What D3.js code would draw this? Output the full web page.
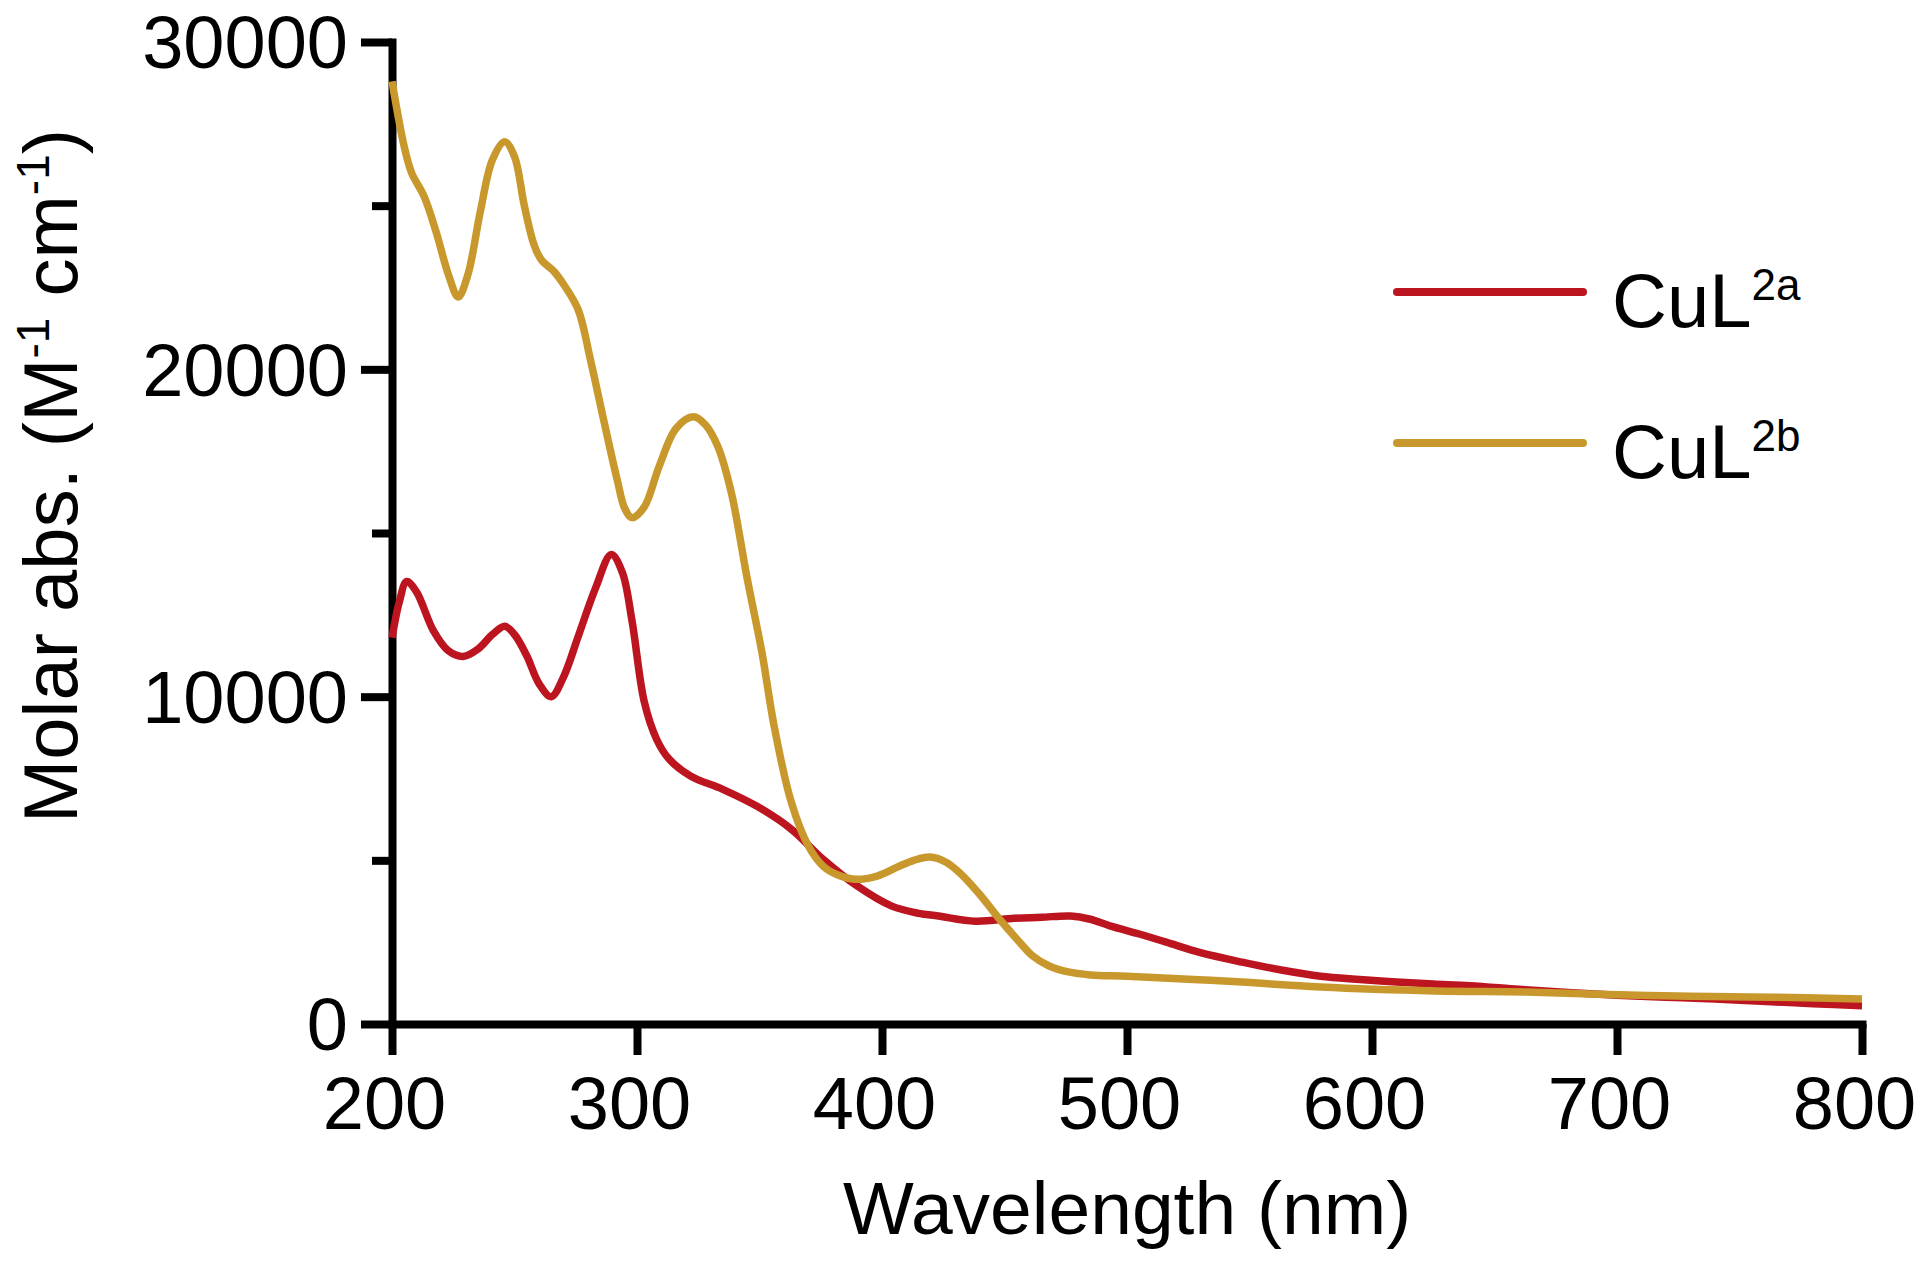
<!DOCTYPE html>
<html>
<head>
<meta charset="utf-8">
<script src="https://cdn.jsdelivr.net/npm/d3@7"></script>
<style>
  body { margin: 0; background: #fff; }
  svg { display: block; font-family: "Liberation Sans", Arial, sans-serif; }
</style>
</head>
<body>
<div id="chart"></div>
<script>
// CuL2a (red) – wavelength (nm) and molar absorptivity
const cul2aWavelength = [200, 203, 206, 210, 217, 223, 229, 235, 241, 246, 250, 255, 260, 265, 270, 276, 283, 289.5, 294, 298, 303, 308, 313, 322, 335, 349, 363, 376, 390, 404, 415, 423, 438, 454, 465, 477, 485, 493, 505, 516, 530, 547, 563, 579, 595, 610, 625, 640, 660, 680, 700, 720, 740, 763, 780, 800]
const cul2aAbs = [11800, 12900, 13520, 13200, 12000, 11400, 11230, 11450, 11900, 12150, 11900, 11250, 10400, 10000, 10600, 11840, 13300, 14340, 13800, 12300, 9830, 8700, 8100, 7570, 7170, 6650, 5950, 5030, 4210, 3600, 3380, 3300, 3140, 3230, 3260, 3300, 3200, 3000, 2750, 2500, 2180, 1890, 1650, 1460, 1360, 1280, 1220, 1170, 1060, 960, 880, 820, 760, 680, 620, 560]

// CuL2b (gold)
const cul2bWavelength = [200, 205, 208, 213, 218, 223, 227, 231, 236, 241, 246, 250, 254, 258, 261, 266, 270, 276, 281, 287, 292, 295, 298, 303, 309, 316, 323, 328, 333, 338.5, 345, 351, 356, 363, 370, 376, 382, 389, 398, 407, 413, 419.6, 426, 432, 440, 448, 455, 461.5, 468, 476, 485, 500, 525, 547, 579, 626, 663, 713, 763, 800]
const cul2bAbs = [28800, 26800, 26000, 25300, 24200, 22900, 22210, 22900, 24800, 26400, 26950, 26500, 25000, 23800, 23340, 23000, 22600, 21820, 20290, 18250, 16600, 15750, 15470, 15800, 17030, 18200, 18550, 18300, 17640, 16230, 13600, 11350, 9090, 6770, 5430, 4820, 4550, 4420, 4520, 4820, 5000, 5100, 4950, 4600, 3950, 3200, 2600, 2080, 1780, 1590, 1500, 1460, 1370, 1280, 1130, 1010, 975, 870, 820, 760]

const seriesNames = ["CuL", "CuL"]
const seriesSup = ["2a", "2b"]
const seriesColors = ["#bd1520", "#c8982c"]

const xTicks = [200, 300, 400, 500, 600, 700, 800]
const yTicks = [0, 10000, 20000, 30000]
const yMinorTicks = [5000, 15000, 25000]

const width = 1920
const height = 1264

const x = d3.scaleLinear().domain([200, 800]).range([392, 1862])
const y = d3.scaleLinear().domain([0, 30000]).range([1024, 42])

const svg = d3.select("#chart").append("svg")
  .attr("width", width)
  .attr("height", height)

// y axis
svg.append("g")
  .attr("class", "yaxis")
  .attr("transform", `translate(${x(200)},0)`)
  .call(d3.axisLeft(y).tickValues(yTicks).tickFormat(d3.format("d")).tickSize(31).tickSizeOuter(0).tickPadding(13))

svg.append("g")
  .attr("transform", `translate(${x(200)},0)`)
  .call(d3.axisLeft(y).tickValues(yMinorTicks).tickFormat("").tickSize(20).tickSizeOuter(0))
  .call(g => g.select(".domain").remove())

// x axis
svg.append("g")
  .attr("class", "xaxis")
  .attr("transform", `translate(0,${y(0)})`)
  .call(d3.axisBottom(x).tickValues(xTicks).tickFormat(d3.format("d")).tickSize(31).tickSizeOuter(0).tickPadding(21))

svg.selectAll(".domain")
  .attr("stroke", "#000")
  .attr("stroke-width", 8)
  .attr("stroke-linecap", "square")
svg.selectAll(".tick line")
  .attr("stroke", "#000")
  .attr("stroke-width", 8)
svg.selectAll(".tick text")
  .attr("fill", "#000")
  .style("font-family", "'Liberation Sans', Arial, sans-serif")
svg.selectAll(".yaxis .tick text").style("font-size", "74px").attr("dy", "0.35em")
svg.selectAll(".xaxis .tick text").style("font-size", "74px").attr("dx", -8)

// spectra
const line = d3.line()
  .x(d => x(d[0]))
  .y(d => y(d[1]))
  .curve(d3.curveCatmullRom.alpha(0.5))

const dataA = cul2aWavelength.map((w, i) => [w, cul2aAbs[i]])
const dataB = cul2bWavelength.map((w, i) => [w, cul2bAbs[i]])

svg.append("path")
  .datum(dataA)
  .attr("d", line)
  .attr("fill", "none")
  .attr("stroke", seriesColors[0])
  .attr("stroke-width", 7.5)
  .attr("stroke-linejoin", "round")

svg.append("path")
  .datum(dataB)
  .attr("d", line)
  .attr("fill", "none")
  .attr("stroke", seriesColors[1])
  .attr("stroke-width", 7.5)
  .attr("stroke-linejoin", "round")

// axis titles
svg.append("text")
  .attr("x", 1127)
  .attr("y", 1234)
  .attr("text-anchor", "middle")
  .style("font-size", "75px")
  .text("Wavelength (nm)")

const yTitle = svg.append("text")
  .attr("transform", "translate(77,476) rotate(-90)")
  .attr("text-anchor", "middle")
  .style("font-size", "76px")
yTitle.append("tspan").text("Molar abs. (M")
yTitle.append("tspan").attr("dy", -28).style("font-size", "46px").text("-1")
yTitle.append("tspan").attr("dy", 28).text(" cm")
yTitle.append("tspan").attr("dy", -28).style("font-size", "46px").text("-1")
yTitle.append("tspan").attr("dy", 28).text(")")

// legend
const legend = svg.append("g")
seriesNames.forEach((name, i) => {
  const ly = 292 + i * 151
  legend.append("line")
    .attr("x1", 1397).attr("x2", 1583)
    .attr("y1", ly).attr("y2", ly)
    .attr("stroke", seriesColors[i])
    .attr("stroke-width", 8)
    .attr("stroke-linecap", "round")
  const t = legend.append("text")
    .attr("x", 1612)
    .attr("y", ly + 35)
    .style("font-size", "76px")
  t.append("tspan").text(name)
  t.append("tspan").attr("dy", -27).style("font-size", "44px").text(seriesSup[i])
})
</script>
</body>
</html>
